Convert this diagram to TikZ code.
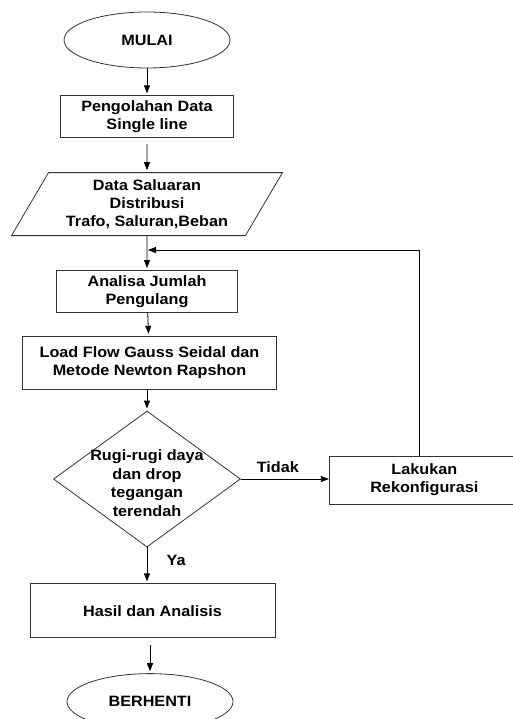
\documentclass[tikz,border=0pt]{standalone}
\usepackage{fontspec}
\setmainfont{Liberation Sans}[FakeStretch=1.08]
\usepackage{tikz}
\usetikzlibrary{positioning, shapes, shapes.geometric, arrows.meta, calc}
\tikzset{flowchart/.style={
    every node/.style={font=\fontsize{15}{18}\selectfont\bfseries, align=center, line width=0.8pt},
    terminal/.style={ellipse, draw=black!80, minimum width=166pt, minimum height=56pt, inner sep=0pt},
    process/.style={rectangle, draw=black!80, minimum height=42pt, inner sep=2pt},
    inout/.style={trapezium, trapezium left angle=53, trapezium right angle=127, trapezium stretches body,
        draw=black!80, minimum width=271pt, minimum height=63pt, inner sep=0pt},
    decision/.style={diamond, draw=black!80, minimum width=187pt, minimum height=136pt, inner sep=0pt},
    arr/.style={line width=0.8pt, -{Triangle[length=8pt, width=6pt]}, shorten >=2pt},
    node distance=27pt,
}}

\begin{document}
\begin{tikzpicture}[flowchart]
    \useasboundingbox (0pt,0pt) rectangle (513pt,-719pt);
    \node[terminal] (mulai) at (147pt,-40pt) {MULAI};
    \node[process, minimum width=173pt, below=27pt of mulai] (olah) {Pengolahan Data\\Single line};
    \node[inout, below=34pt of olah] (data) {Data Saluaran\\Distribusi\\Trafo, Saluran,Beban};
    \node[process, minimum width=181pt, below=34pt of data] (analisa) {Analisa Jumlah\\Pengulang};
    \node[process, minimum width=254pt, minimum height=53pt, below=23pt of analisa, xshift=2.5pt] (loadflow) {Load Flow Gauss Seidal dan\\Metode Newton Rapshon};
    \node[decision, below=21pt of loadflow, xshift=-2.5pt] (rugi) {};
    \node[font=\fontsize{15}{18.6}\selectfont\bfseries] (rugitxt) at ($(rugi.center)+(0,-4pt)$) {Rugi-rugi daya\\dan drop\\tegangan\\terendah};
    \node[process, minimum width=190pt, minimum height=48pt, right=88pt of rugi, yshift=-1pt] (lakukan) {Lakukan\\Rekonfigurasi};
    \node[process, minimum width=245pt, minimum height=54pt, below=36pt of rugi, xshift=5.5pt] (hasil) {Hasil dan Analisis};
    \node[terminal, below=35pt of hasil, xshift=-2.5pt] (berhenti) {BERHENTI};
    \coordinate (merge) at ($(data.south)+(0,-14pt)$);

    % main flow
    \draw[arr] (mulai) -- (olah);
    \draw[arr, shorten <=6pt] (olah) -- (data);
    \draw[arr] (data) -- (analisa);
    \draw[arr] (analisa) -- (loadflow);
    \draw[arr] (loadflow.south -| rugi.north) -- (rugi.north);
    \draw[arr] (rugi.south) -- node[right=16pt, pos=0.35] (ya) {Ya} (rugi.south |- hasil.north);
    \draw[arr, shorten <=7pt] (berhenti.north |- hasil.south) -- (berhenti);

    % loop back
    \draw[arr, shorten >=0pt] (rugi.east) -- node[above=3pt, pos=0.42] (tidak) {Tidak} (rugi.east -| lakukan.west);
    \draw[arr, shorten >=1pt] ($(lakukan.north)+(-5pt,0)$) |- (merge);
\end{tikzpicture}
\end{document}
